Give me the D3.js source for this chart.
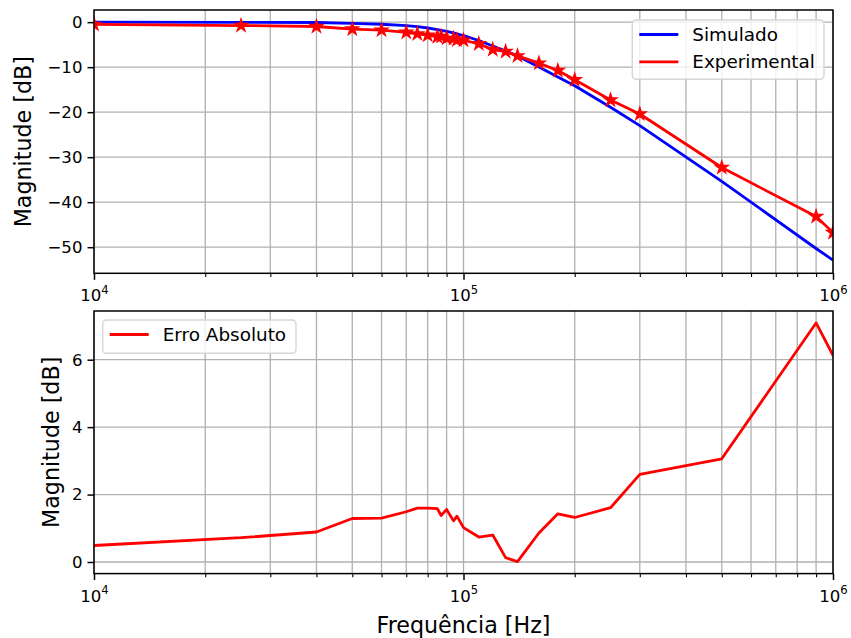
<!DOCTYPE html>
<html>
<head>
<meta charset="utf-8">
<script src="https://cdn.jsdelivr.net/npm/d3@7"></script>
<style>
  html, body { margin: 0; padding: 0; background: #fff; }
  svg { display: block; }
  svg text { font-family: "DejaVu Sans", sans-serif; }
</style>
</head>
<body>
<svg id="chart" width="851" height="638"></svg>
<script>
// Frequency sweep points [Hz]
const freqs = [10000, 25000, 40000, 50000, 60000, 70000, 75000, 80000, 85000, 87000,
  90000, 94000, 96000, 100000, 110000, 120000, 130000, 140000, 160000, 180000,
  200000, 250000, 300000, 500000, 900000, 1000000];

// Simulated magnitude response [dB]
const simulado = [0.0, -0.03, -0.08, -0.25, -0.47, -0.77, -1.0, -1.3, -1.65, -1.8,
  -2.05, -2.4, -2.6, -3.0, -4.08, -5.3, -6.4, -7.5, -9.96, -12.18,
  -14.12, -18.91, -23.0, -35.36, -50.29, -52.88];

// Measured magnitude response [dB]
const experimental = [-0.49, -0.75, -0.97, -1.54, -1.77, -2.26, -2.6, -2.9, -3.23, -3.18,
  -3.61, -3.62, -3.96, -4.02, -4.82, -6.1, -6.53, -7.49, -9.1, -10.75,
  -12.8, -17.3, -20.4, -32.3, -43.2, -46.75];

// Absolute error between simulation and measurement [dB]
const erroAbsoluto = [0.49, 0.72, 0.89, 1.29, 1.30, 1.49, 1.60, 1.60, 1.58, 1.38,
  1.56, 1.22, 1.36, 1.02, 0.74, 0.80, 0.13, 0.01, 0.86, 1.43,
  1.32, 1.61, 2.60, 3.06, 7.09, 6.13];

// Axis ticks
const xMajorExp = [4, 5, 6];
const topYTicks = [0, -10, -20, -30, -40, -50];
const bottomYTicks = [0, 2, 4, 6];

const svg = d3.select("#chart");
const L = 94, R = 833;
const FONT = "DejaVu Sans";
const tickFont = 16.6, legendFont = 18.4, labelFont = 22.2;
const gridColor = "#b0b0b0";

const x = d3.scaleLog().domain([1e4, 1e6]).range([L, R]);
const xMinor = [];
[1e4, 1e5].forEach(d => { for (let k = 2; k <= 9; k++) xMinor.push(d * k); });
const xMajor = xMajorExp.map(e => Math.pow(10, e));

function panel(id, top, bottom, yDomain, yTicks) {
  const y = d3.scaleLinear().domain(yDomain).range([bottom, top]);
  const g = svg.append("g");
  const h = bottom - top;

  svg.append("clipPath").attr("id", id)
    .append("rect").attr("x", L).attr("y", top).attr("width", R - L).attr("height", h);

  // grid (major + minor in x, major in y)
  const grid = g.append("g").attr("stroke", gridColor).attr("stroke-width", 1.3);
  grid.selectAll(".gx").data(xMajor.concat(xMinor)).join("line")
    .attr("x1", d => x(d)).attr("x2", d => x(d)).attr("y1", top).attr("y2", bottom);
  grid.selectAll(".gy").data(yTicks).join("line")
    .attr("x1", L).attr("x2", R).attr("y1", d => y(d)).attr("y2", d => y(d));

  const plot = g.append("g").attr("clip-path", `url(#${id})`);

  // x axis: major ticks with labels, minor ticks without
  const xa = g.append("g").attr("transform", `translate(0,${bottom})`)
    .call(d3.axisBottom(x).tickValues(xMajor).tickSize(6.5).tickPadding(6).tickFormat(""))
    .attr("font-family", FONT);
  g.append("g").attr("transform", `translate(0,${bottom})`)
    .call(d3.axisBottom(x).tickValues(xMinor).tickSize(3.7).tickFormat(""))
    .call(s => s.select(".domain").remove())
    .selectAll("line").attr("stroke-width", 1.1);
  xa.select(".domain").remove();
  xa.selectAll("line").attr("stroke-width", 1.5);
  xa.selectAll(".tick").each(function(d) {
    const t = d3.select(this).append("text")
      .attr("y", 28).attr("fill", "#000").attr("text-anchor", "middle")
      .attr("font-family", FONT).attr("font-size", tickFont);
    t.append("tspan").text("10");
    t.append("tspan").text(String(Math.round(Math.log10(d))))
      .attr("dy", -7.5).attr("font-size", tickFont * 0.7);
  });

  // y axis
  const ya = g.append("g").attr("transform", `translate(${L},0)`)
    .call(d3.axisLeft(y).tickValues(yTicks).tickSize(6.5).tickPadding(5)
      .tickFormat(d => d < 0 ? "\u2212" + Math.abs(d) : String(d)))
    .attr("font-family", FONT).attr("font-size", tickFont);
  ya.select(".domain").remove();
  ya.selectAll("line").attr("stroke-width", 1.5);
  ya.selectAll("text").attr("fill", "#000");

  return { y, g, plot, top, bottom };
}

function frame(p) {
  p.g.append("rect").attr("x", L).attr("y", p.top).attr("width", R - L).attr("height", p.bottom - p.top)
    .attr("fill", "none").attr("stroke", "#000").attr("stroke-width", 1.5);
}

function legend(g, x0, y0, w, hgt, items) {
  const lg = g.append("g");
  lg.append("rect").attr("x", x0).attr("y", y0).attr("width", w).attr("height", hgt)
    .attr("rx", 3.7).attr("fill", "#fff").attr("fill-opacity", 0.8)
    .attr("stroke", "#d6d6d6").attr("stroke-width", 1.4);
  items.forEach((it, i) => {
    const yy = y0 + 14.5 + i * 27.4;
    lg.append("line").attr("x1", x0 + 7).attr("x2", x0 + 46).attr("y1", yy).attr("y2", yy)
      .attr("stroke", it.color).attr("stroke-width", 2.8);
    lg.append("text").attr("x", x0 + 60).attr("y", yy + 6.5).text(it.label)
      .attr("font-family", FONT).attr("font-size", legendFont).attr("fill", "#000");
  });
}

// ---- Top panel: magnitude responses ----
const pTop = panel("clipTop", 10, 273.3, [-55.8, 2.7], topYTicks);
const lineTop = d3.line().x((d, i) => x(freqs[i])).y(d => pTop.y(d));
pTop.plot.append("path").datum(simulado).attr("d", lineTop)
  .attr("fill", "none").attr("stroke", "#0000ff").attr("stroke-width", 2.8)
  .attr("stroke-linejoin", "round");
pTop.plot.append("path").datum(experimental).attr("d", lineTop)
  .attr("fill", "none").attr("stroke", "#ff0000").attr("stroke-width", 2.8)
  .attr("stroke-linejoin", "round");
const star = d3.symbol().type(d3.symbolStar).size(38);
pTop.plot.selectAll(".star").data(experimental).join("path")
  .attr("d", star)
  .attr("transform", (d, i) => `translate(${x(freqs[i])},${pTop.y(d)})`)
  .attr("fill", "#ff0000").attr("stroke", "#ff0000").attr("stroke-width", 1.85)
  .attr("stroke-linejoin", "miter");
frame(pTop);
legend(pTop.g, 632.3, 20, 191.7, 59.3, [
  { label: "Simulado", color: "#0000ff" },
  { label: "Experimental", color: "#ff0000" }
]);

// ---- Bottom panel: absolute error ----
const pBot = panel("clipBot", 311, 573.6, [-0.344, 7.444], bottomYTicks);
const lineBot = d3.line().x((d, i) => x(freqs[i])).y(d => pBot.y(d));
pBot.plot.append("path").datum(erroAbsoluto).attr("d", lineBot)
  .attr("fill", "none").attr("stroke", "#ff0000").attr("stroke-width", 2.8)
  .attr("stroke-linejoin", "round");
frame(pBot);
legend(pBot.g, 102.7, 320, 193.3, 33.3, [
  { label: "Erro Absoluto", color: "#ff0000" }
]);

// ---- Axis titles ----
function title(sel) {
  return sel.attr("font-family", FONT).attr("font-size", labelFont).attr("fill", "#000");
}
title(svg.append("text").attr("transform", `translate(23,141.7) rotate(-90)`)
  .attr("text-anchor", "middle").attr("dy", "0.35em").text("Magnitude [dB]"));
title(svg.append("text").attr("transform", `translate(51,442.3) rotate(-90)`)
  .attr("text-anchor", "middle").attr("dy", "0.35em").text("Magnitude [dB]"));
title(svg.append("text").attr("x", (L + R) / 2).attr("y", 633)
  .attr("text-anchor", "middle").text("Frequência [Hz]"));
</script>
</body>
</html>
